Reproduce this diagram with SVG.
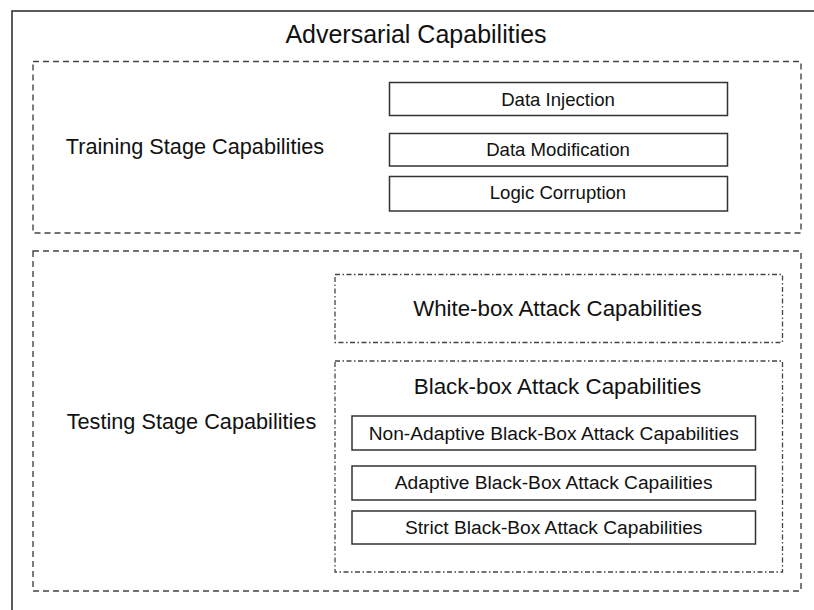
<svg xmlns="http://www.w3.org/2000/svg" width="814" height="610" viewBox="0 0 814 610">
<style>
.t{font-family:"Liberation Sans",Arial,Helvetica,sans-serif;fill:#111;text-anchor:middle}
.outer{fill:none;stroke:#333;stroke-width:1.6}
.stage{fill:none;stroke:#444;stroke-width:1.4;stroke-dasharray:6 4}
.sub{fill:none;stroke:#444;stroke-width:1.3;stroke-dasharray:5 2.5 1.5 2.5}
.box{fill:#fff;stroke:#333;stroke-width:1.5}
</style>
<rect width="814" height="610" fill="#fff"/>
<g id="adversarial-capabilities">
<rect class="outer" x="12" y="11" width="820" height="620"/>
<text class="t" x="416" y="43" font-size="25">Adversarial Capabilities</text>
</g>
<g id="training-stage">
<rect class="stage" x="33" y="61.5" width="768" height="171.5"/>
<text class="t" x="195" y="154" font-size="21.7">Training Stage Capabilities</text>
</g>
<g id="data-injection">
<rect class="box" x="389.5" y="82.5" width="338" height="33"/>
<text class="t" x="558" y="105.5" font-size="18.6">Data Injection</text>
</g>
<g id="data-modification">
<rect class="box" x="389.5" y="133.5" width="338" height="32.5"/>
<text class="t" x="558" y="155.5" font-size="18.6">Data Modification</text>
</g>
<g id="logic-corruption">
<rect class="box" x="389.5" y="176.5" width="338" height="34.5"/>
<text class="t" x="558" y="199" font-size="18.6">Logic Corruption</text>
</g>
<g id="testing-stage">
<rect class="stage" x="33" y="251" width="768" height="340"/>
<text class="t" x="191.5" y="429" font-size="21.7">Testing Stage Capabilities</text>
</g>
<g id="white-box">
<rect class="sub" x="335" y="274.5" width="447.5" height="68"/>
<text class="t" x="557.5" y="316" font-size="22.3">White-box Attack Capabilities</text>
</g>
<g id="black-box">
<rect class="sub" x="335" y="361" width="447.5" height="211"/>
<text class="t" x="557.5" y="393.5" font-size="22.4">Black-box Attack Capabilities</text>
</g>
<g id="non-adaptive">
<rect class="box" x="352" y="416" width="403.5" height="34"/>
<text class="t" x="553.7" y="439.5" font-size="19.2">Non-Adaptive Black-Box Attack Capabilities</text>
</g>
<g id="adaptive">
<rect class="box" x="352" y="466" width="403.5" height="34"/>
<text class="t" x="553.7" y="488.5" font-size="19.2">Adaptive Black-Box Attack Capailities</text>
</g>
<g id="strict">
<rect class="box" x="352" y="511" width="403.5" height="33"/>
<text class="t" x="553.7" y="533.5" font-size="19.2">Strict Black-Box Attack Capabilities</text>
</g>
<g id="connectors"/>
</svg>
